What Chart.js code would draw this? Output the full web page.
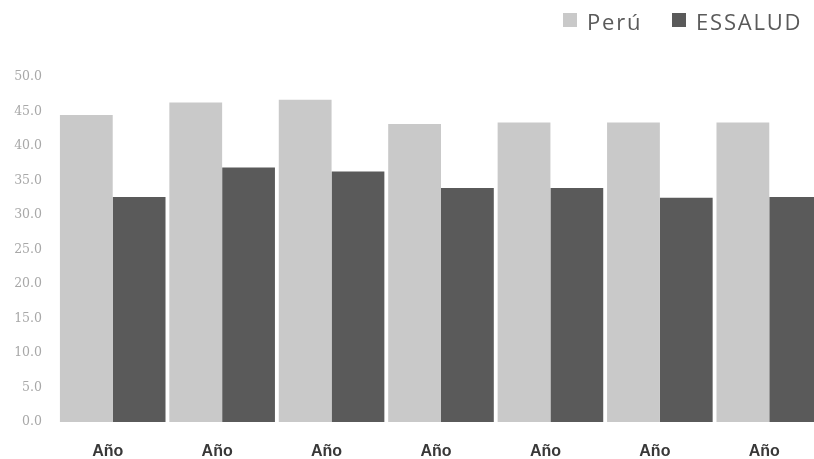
<!DOCTYPE html>
<html>
<head>
<meta charset="utf-8">
<script src="https://cdn.jsdelivr.net/npm/chart.js@4/dist/chart.umd.min.js"></script>
<style>
  html, body { margin: 0; padding: 0; background: #fff; overflow: hidden; width: 814px; height: 459px; }
  #wrap { position: absolute; left: 0; top: 0; width: 830px; height: 459px; }
  .legend { position: absolute; top: 8px; font-family: "Open Sans", sans-serif; font-size: 22px; color: #5a5a5a; letter-spacing: 1.8px; white-space: nowrap; line-height: 26px; }
  .sw { position: absolute; top: 13px; width: 14px; height: 14px; }
</style>
</head>
<body>
<div id="wrap"><canvas id="c" width="830" height="459"></canvas></div>
<div class="sw" style="left:563px;background:#c9c9c9"></div>
<div class="legend" style="left:587px">Perú</div>
<div class="sw" style="left:672px;background:#5a5a5a"></div>
<div class="legend" style="left:696px">ESSALUD</div>
<script>
// Categories along the x axis
const categories = ["Año", "Año", "Año", "Año", "Año", "Año", "Año"];
// Series values (%)
const peru = [44.5, 46.3, 46.7, 43.2, 43.4, 43.4, 43.4];
const essalud = [32.6, 36.9, 36.3, 33.9, 33.9, 32.5, 32.6];
// Y axis range
const yMin = 0, yMax = 50, yStep = 5;

new Chart(document.getElementById("c"), {
  type: "bar",
  data: {
    labels: categories,
    datasets: [
      { label: "Perú", data: peru, backgroundColor: "#c9c9c9", borderWidth: 0 },
      { label: "ESSALUD", data: essalud, backgroundColor: "#5a5a5a", borderWidth: 0 }
    ]
  },
  options: {
    responsive: false,
    animation: false,
    layout: { padding: { top: 77, right: 6, bottom: 0, left: 0 } },
    plugins: { legend: { display: false }, tooltip: { enabled: false } },
    datasets: { bar: { categoryPercentage: 0.965, barPercentage: 1.0 } },
    scales: {
      x: {
        grid: { display: false, drawTicks: false },
        border: { display: false },
        ticks: {
          padding: 20,
          labelOffset: -5,
          color: "#383838",
          font: { family: "Liberation Sans", size: 16, weight: "bold" }
        },
        afterFit: (s) => { s.height = 37; }
      },
      y: {
        min: yMin, max: yMax,
        grid: { display: false, drawTicks: false },
        border: { display: false },
        ticks: {
          stepSize: yStep,
          padding: 16,
          color: "#a8a8a8",
          font: { family: "DejaVu Serif", size: 12.5 },
          callback: (v) => Number(v).toFixed(1)
        },
        afterFit: (s) => { s.width = 58; }
      }
    }
  }
});
</script>
</body>
</html>
